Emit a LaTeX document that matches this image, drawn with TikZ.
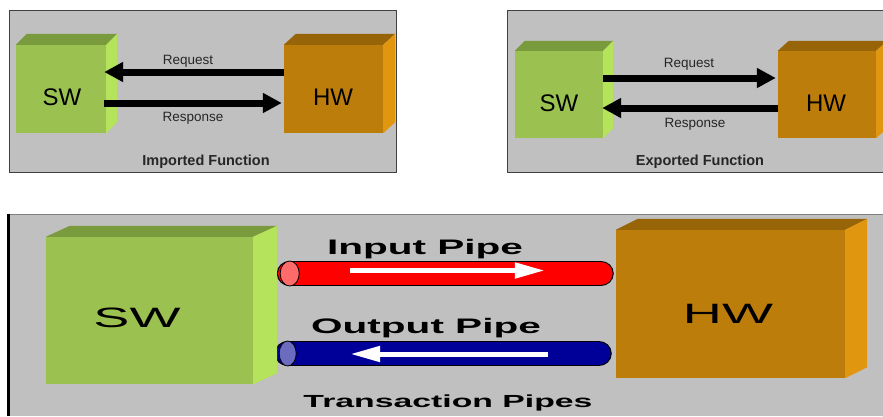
\documentclass[tikz,border=0pt]{standalone}
\usepackage{fontspec}
\setmainfont{Liberation Sans}
\usetikzlibrary{arrows.meta}
\definecolor{panelgray}{HTML}{C0C0C0}
\definecolor{paneledge}{HTML}{404040}
\definecolor{swfront}{HTML}{9BC250}
\definecolor{swtop}{HTML}{7A9A3E}
\definecolor{swside}{HTML}{B5E35C}
\definecolor{hwfront}{HTML}{BD7D0B}
\definecolor{hwtop}{HTML}{986408}
\definecolor{hwside}{HTML}{E0960F}
\definecolor{pipered}{HTML}{FF0000}
\definecolor{redcap}{HTML}{FF6B6B}
\definecolor{pipeblue}{HTML}{000099}
\definecolor{bluecap}{HTML}{6B6BBF}
\pgfdeclarelayer{bg}
\pgfdeclarelayer{pipes}
\pgfsetlayers{bg,pipes,main}
% top and side faces of a cube whose front face is node #1
\newcommand\boxfaces[5]{%
  \fill[#4] (#1.north west) -- ++(#2,-#3) -- ([shift={(#2,-#3)}]#1.north east) -- (#1.north east) -- cycle;
  \fill[#5] (#1.north east) -- ++(#2,-#3) -- ([shift={(#2,-#3)}]#1.south east) -- (#1.south east) -- cycle;}
\tikzset{
  swface/.style={fill=swfront, inner sep=0pt},
  hwface/.style={fill=hwfront, inner sep=0pt},
  panel/.style={fill=panelgray, draw=paneledge, line width=1pt},
  cubelbl/.style={inner sep=0pt, font=\fontsize{24}{28}\selectfont},
  biglbl/.style={inner sep=0pt, font=\fontsize{28}{32}\selectfont},
  lbl/.style={inner sep=0pt, text=black!85, font=\fontsize{13.5}{16}\selectfont},
  caption/.style={inner sep=0pt, text=black!85, font=\bfseries\fontsize{14.5}{17}\selectfont},
  pipelbl/.style={inner sep=0pt, font=\bfseries\fontsize{21}{24}\selectfont},
  blackarrow/.style={line width=7pt, -{Triangle[length=19pt,width=19pt]}},
  whitearrow/.style={white, line width=5pt, -{Triangle[length=30pt,width=15pt]}},
  pipe/.style={draw=black, line width=1.2pt, double=#1, double distance=23.5pt, line cap=round},
  pipecap/.style={draw=black, line width=0.8pt, fill=#1},
}
\newcommand\wide[1]{\scalebox{1.93}[1]{#1}}
\begin{document}
\begin{tikzpicture}[x=1pt,y=-1pt]
\useasboundingbox (0,0) rectangle (883,416);
\begin{pgfonlayer}{bg}
  \fill[white] (0,0) rectangle (883,416);
  % panel behind the transaction pipes
  \fill[panelgray] (8,214) rectangle (883,416);
  \draw[black!50, line width=1.2pt] (8,214.5) -- (883,214.5);
  \draw[black, line width=2.5pt] (8.5,214) -- (8.5,416);
\end{pgfonlayer}

% ---------- Imported function ----------
\draw[panel] (9.5,10.5) rectangle (396.5,172.5);
\node[swface, minimum width=90pt, minimum height=88pt] (sw1) at (61,89) {};
\boxfaces{sw1}{11}{11}{swtop}{swside}
\node[hwface, minimum width=99pt, minimum height=88pt] (hw1) at (333.5,89) {};
\boxfaces{hw1}{12}{11}{hwtop}{hwside}
\node[cubelbl] (sw1t) at (62,97) {SW};
\node[cubelbl] (hw1t) at (333,97) {HW};
\draw[blackarrow] ([yshift=17pt]hw1.west) -- ([xshift=-2pt,yshift=17pt]sw1.east);
\draw[blackarrow] ([xshift=-2pt,yshift=-14pt]sw1.east) -- ([xshift=-2pt,yshift=-14pt]hw1.west);
\node[lbl] (req1) at (188,61) {Request};
\node[lbl] (rsp1) at (193,118) {Response};
\node[caption] (cap1) at (206,162) {Imported Function};

% ---------- Exported function ----------
\draw[panel] (507.5,10.5) rectangle (884,172.5);
\node[swface, minimum width=88pt, minimum height=87pt] (sw2) at (559,94.5) {};
\boxfaces{sw2}{10}{10}{swtop}{swside}
\node[hwface, minimum width=98pt, minimum height=87pt] (hw2) at (827,94.5) {};
\boxfaces{hw2}{11}{10}{hwtop}{hwside}
\node[cubelbl] (sw2t) at (559,103) {SW};
\node[cubelbl] (hw2t) at (826,103) {HW};
\draw[blackarrow] ([yshift=16.5pt]sw2.east) -- ([xshift=-2pt,yshift=16.5pt]hw2.west);
\draw[blackarrow] ([yshift=-13.5pt]hw2.west) -- ([xshift=-1pt,yshift=-13.5pt]sw2.east);
\node[lbl] (req2) at (689,64) {Request};
\node[lbl] (rsp2) at (695,124) {Response};
\node[caption] (cap2) at (700,162) {Exported Function};

% ---------- Transaction pipes ----------
\node[swface, minimum width=207pt, minimum height=147pt] (sw3) at (149.5,310.5) {};
\boxfaces{sw3}{24}{11}{swtop}{swside}
\node[hwface, minimum width=229pt, minimum height=148pt] (hw3) at (730.5,304) {};
\boxfaces{hw3}{22}{11}{hwtop}{hwside}
\node[biglbl] (sw3t) at (137,318) {\wide{SW}};
\node[biglbl] (hw3t) at (728,314) {\wide{HW}};

\coordinate (inA) at ([xshift=36.5pt,yshift=37pt]sw3.east);
\coordinate (inB) at ([xshift=-15pt]inA -| hw3.west);
\coordinate (outA) at ([xshift=34.5pt,yshift=-43pt]sw3.east);
\coordinate (outB) at ([xshift=-17pt]outA -| hw3.west);
\begin{pgfonlayer}{pipes}
  \draw[pipe=pipered] (inA) -- (inB);
  \draw[pipe=pipeblue] (outA) -- (outB);
  \draw[pipecap=redcap] (inA) ellipse [x radius=9.5, y radius=12.5];
  \draw[pipecap=bluecap] (outA) ellipse [x radius=8.5, y radius=12.5];
\end{pgfonlayer}
\draw[whitearrow] ([xshift=60.5pt,yshift=3pt]inA) -- ([xshift=-56pt,yshift=3pt]inB);
\draw[whitearrow] ([xshift=-51pt,yshift=-0.5pt]outB) -- ([xshift=62.5pt,yshift=-0.5pt]outA);
\node[pipelbl] (inl) at (425,249) {\wide{Input Pipe}};
\node[pipelbl] (outl) at (426,328) {\wide{Output Pipe}};
\node[pipelbl, font=\bfseries\fontsize{17.5}{20}\selectfont] (cap3) at (448,403) {\wide{Transaction Pipes}};
\end{tikzpicture}
\end{document}
